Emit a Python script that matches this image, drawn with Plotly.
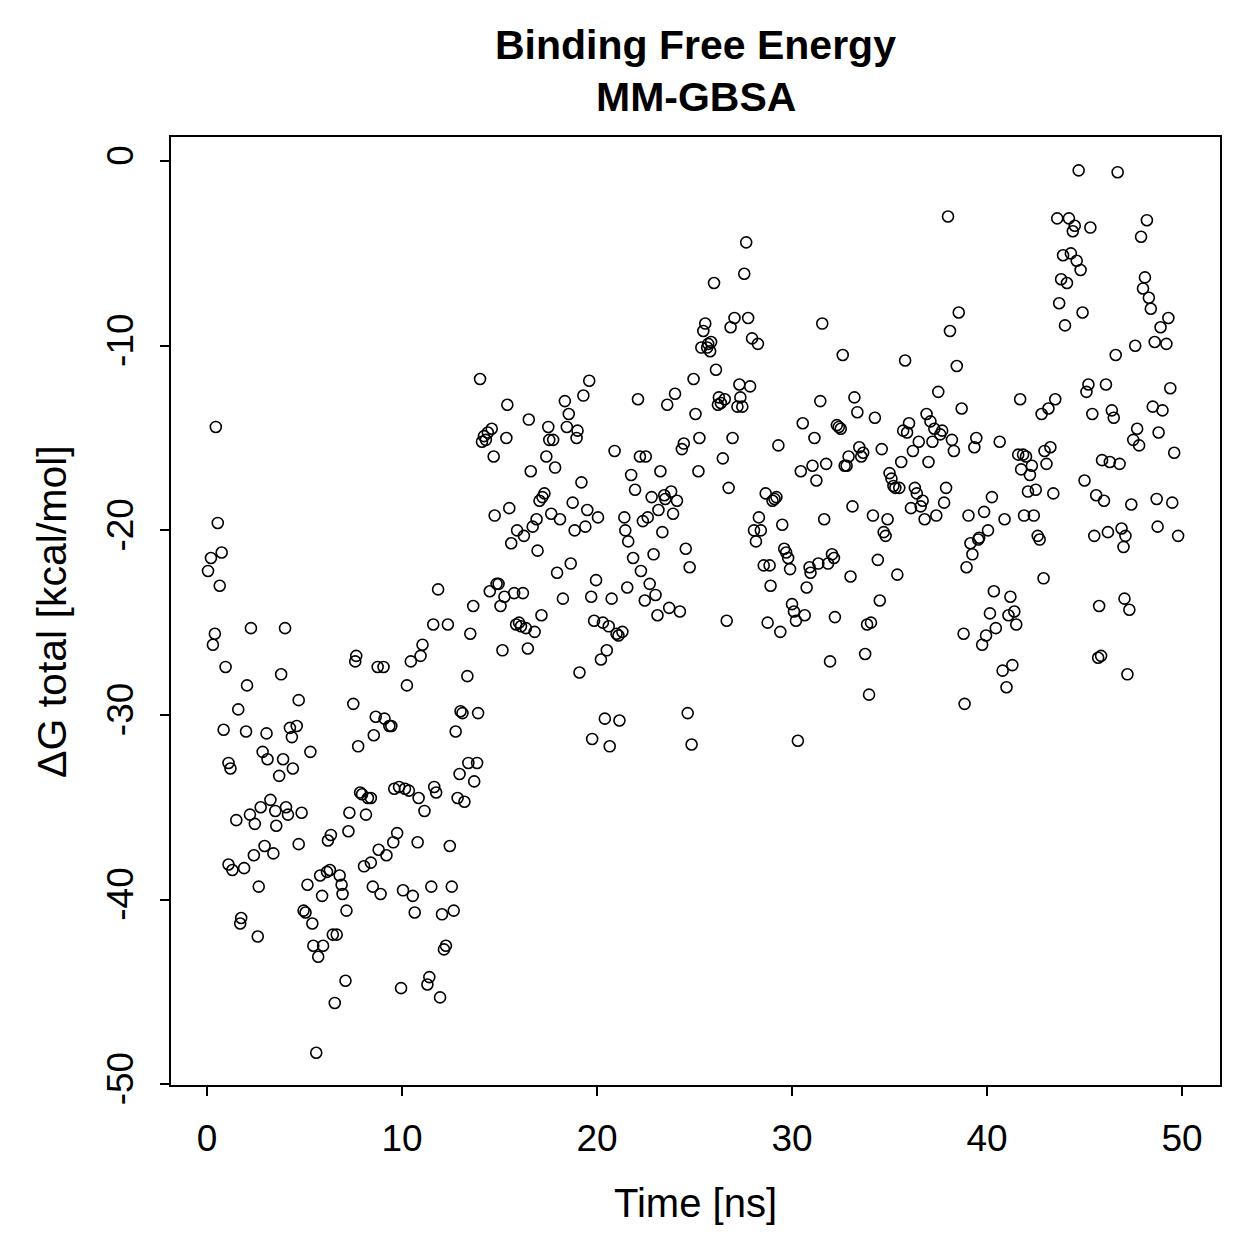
import plotly.graph_objects as go

time_ns = [0.05,0.2,0.3,0.4,0.45,0.55,0.65,0.75,0.85,0.95,1.1,1.2,1.1,1.3,1.5,1.6,1.75,1.7,1.9,2.0,
2.05,2.2,2.25,2.4,2.45,2.6,2.65,2.75,2.85,2.95,3.05,3.1,3.25,3.4,3.5,3.55,3.7,3.8,3.9,4.0,
4.05,4.15,4.25,4.35,4.4,4.6,4.7,4.7,4.85,4.95,5.05,5.15,5.3,5.4,5.45,5.6,5.7,5.8,5.9,5.95,
6.15,6.2,6.3,6.35,6.45,6.55,6.65,6.8,6.9,6.95,7.1,7.15,7.25,7.3,7.5,7.6,7.65,7.75,7.85,7.95,
8.05,8.15,8.25,8.4,8.4,8.5,8.55,8.65,8.75,8.8,8.9,9.05,9.1,9.2,9.35,9.45,9.55,9.6,9.75,9.85,
9.95,10.05,10.15,10.25,10.35,10.45,10.55,10.65,10.8,10.85,10.95,11.05,11.15,11.3,11.4,11.5,11.6,11.65,11.75,11.85,
11.95,12.05,12.15,12.25,12.35,12.45,12.55,12.65,12.75,12.85,12.95,13.0,13.1,13.2,13.35,13.4,13.5,13.65,13.7,13.85,
13.9,14.0,14.1,14.2,14.3,14.4,14.5,14.6,14.7,14.75,14.85,14.95,15.05,15.15,15.25,15.35,15.4,15.5,15.6,15.75,
15.85,15.9,16.0,16.1,16.2,16.25,16.35,16.45,16.5,16.6,16.7,16.8,16.9,16.95,17.05,17.15,17.2,17.3,17.4,17.5,
17.55,17.65,17.75,17.85,17.95,18.1,18.25,18.35,18.45,18.55,18.65,18.75,18.85,18.95,19.0,19.1,19.2,19.3,19.4,19.5,
19.6,19.7,19.75,19.85,19.95,20.05,20.2,20.3,20.4,20.5,20.6,20.65,20.75,20.9,21.0,21.1,21.15,21.3,21.4,21.45,
21.55,21.6,21.75,21.85,21.95,22.1,22.2,22.25,22.35,22.45,22.5,22.6,22.7,22.8,22.9,23.0,23.1,23.15,23.25,23.35,
23.45,23.5,23.6,23.7,23.8,23.9,24.0,24.1,24.25,24.35,24.45,24.55,24.65,24.75,24.85,24.95,25.05,25.2,25.25,25.35,
25.45,25.55,25.65,25.7,25.8,25.85,26.0,26.1,26.2,26.25,26.35,26.45,26.55,26.65,26.75,26.85,26.95,27.05,27.2,27.3,
27.35,27.45,27.55,27.65,27.75,27.85,27.95,28.05,28.15,28.25,28.3,28.4,28.55,28.65,28.75,28.85,28.9,29.0,29.1,29.2,
29.3,29.4,29.5,29.6,29.7,29.8,29.9,30.0,30.1,30.2,30.3,30.45,30.55,30.65,30.75,30.9,30.95,31.05,31.15,31.25,
31.35,31.45,31.55,31.65,31.75,31.85,31.95,32.05,32.15,32.2,32.3,32.4,32.5,32.6,32.7,32.8,32.9,33.0,33.1,33.2,
33.35,33.45,33.55,33.65,33.75,33.85,33.95,34.05,34.15,34.25,34.4,34.5,34.6,34.7,34.8,34.9,35.0,35.1,35.2,35.3,
35.4,35.5,35.6,35.7,35.8,35.9,36.0,36.1,36.2,36.3,36.4,36.5,36.6,36.7,36.8,36.9,37.0,37.1,37.2,37.3,
37.4,37.5,37.6,37.7,37.8,37.9,38.0,38.1,38.2,38.3,38.45,38.55,38.7,38.8,38.85,38.95,39.05,39.15,39.25,39.35,
39.45,39.55,39.6,39.75,39.85,39.95,40.05,40.15,40.25,40.35,40.45,40.65,40.8,40.9,41.0,41.1,41.2,41.3,41.4,41.5,
41.6,41.7,41.75,41.85,41.9,42.0,42.1,42.2,42.3,42.4,42.5,42.6,42.7,42.8,42.9,42.95,43.05,43.15,43.25,43.4,
43.5,43.6,43.7,43.8,43.9,44.0,44.1,44.2,44.3,44.4,44.5,44.6,44.7,44.8,44.9,45.0,45.1,45.2,45.3,45.4,
45.5,45.6,45.7,45.75,45.85,45.9,46.0,46.1,46.2,46.3,46.4,46.5,46.6,46.7,46.8,46.9,47.0,47.05,47.1,47.2,
47.3,47.4,47.5,47.6,47.7,47.8,47.9,48.0,48.1,48.2,48.3,48.4,48.5,48.6,48.7,48.75,48.8,48.9,49.0,49.2,
49.3,49.4,49.5,49.6,49.8]

dg_total = [-22.2,-21.5,-26.2,-25.6,-14.4,-19.6,-23.0,-21.2,-30.8,-27.4,-32.6,-32.9,-38.1,-38.4,-35.7,-29.7,-41.0,-41.3,-38.3,-30.9,
-28.4,-35.4,-25.3,-37.6,-35.9,-42.0,-39.3,-35.0,-32.0,-37.1,-31.0,-32.4,-34.6,-37.5,-35.2,-36.0,-33.3,-27.8,-32.4,-25.3,
-35.0,-35.4,-30.7,-31.2,-32.9,-30.6,-29.2,-37.0,-35.3,-40.6,-40.7,-39.2,-32.0,-41.3,-42.5,-48.3,-43.1,-38.7,-39.8,-42.5,
-38.5,-36.8,-38.4,-36.5,-41.9,-45.6,-41.9,-38.7,-39.2,-39.7,-44.4,-40.6,-36.3,-35.3,-29.4,-27.1,-26.8,-31.7,-34.2,-34.3,
-38.2,-35.4,-34.5,-34.5,-38.0,-39.3,-31.1,-30.1,-27.4,-37.3,-39.7,-27.4,-30.2,-37.6,-30.6,-30.6,-36.9,-34.0,-36.4,-33.9,
-44.8,-39.5,-34.0,-28.4,-34.1,-27.1,-39.8,-40.7,-36.9,-34.5,-26.8,-26.2,-35.2,-44.6,-44.2,-39.3,-25.1,-33.9,-34.2,-23.2,
-45.3,-40.8,-42.7,-42.5,-25.1,-37.1,-39.3,-40.6,-30.9,-34.5,-33.2,-29.8,-29.9,-34.7,-27.9,-32.6,-25.6,-24.1,-33.6,-32.6,
-29.9,-11.8,-15.2,-14.9,-15.1,-14.7,-23.3,-14.5,-16.0,-19.2,-22.9,-22.9,-24.1,-26.5,-23.6,-15.0,-13.2,-18.8,-20.7,-23.4,
-25.1,-20.0,-25.0,-25.2,-23.4,-20.3,-25.3,-26.4,-14.0,-16.8,-19.8,-25.5,-19.4,-21.1,-18.4,-24.6,-18.2,-18.0,-16.0,-14.4,
-15.1,-19.1,-15.1,-16.6,-22.3,-19.4,-23.7,-13.0,-14.4,-13.7,-21.8,-18.5,-20.0,-15.0,-14.6,-27.7,-17.4,-12.7,-19.8,-18.9,
-11.9,-23.6,-31.3,-24.9,-22.7,-19.3,-27.0,-25.0,-30.2,-26.5,-25.2,-31.7,-23.7,-15.7,-25.6,-25.7,-30.3,-25.5,-19.3,-20.0,
-23.1,-20.6,-17.0,-21.5,-17.8,-12.9,-16.0,-22.2,-19.5,-23.8,-16.0,-19.3,-22.9,-18.2,-21.3,-23.5,-24.6,-18.9,-16.8,-20.1,
-18.1,-18.3,-13.2,-24.2,-17.9,-19.1,-12.6,-18.4,-24.4,-15.6,-15.3,-21.0,-29.9,-22.0,-31.6,-11.8,-13.7,-16.8,-15.0,-10.1,
-9.2,-8.8,-10.1,-9.9,-10.3,-9.8,-6.6,-11.3,-13.2,-12.8,-13.1,-16.1,-12.9,-24.9,-17.7,-9.0,-15.0,-8.5,-13.3,-12.1,
-12.8,-13.3,-6.1,-4.4,-8.5,-12.2,-9.6,-20.0,-20.6,-9.9,-19.3,-20.0,-21.9,-18.0,-25.0,-21.9,-23.0,-18.4,-18.3,-18.2,
-15.4,-25.5,-19.7,-21.0,-21.2,-21.5,-22.1,-24.0,-24.4,-24.9,-31.4,-16.8,-14.2,-24.6,-23.1,-22.0,-22.3,-16.5,-15.0,-17.3,
-21.8,-13.0,-8.8,-19.4,-16.4,-21.8,-27.1,-21.3,-21.5,-24.7,-14.3,-14.4,-14.5,-10.5,-16.5,-16.5,-16.0,-22.5,-18.7,-12.8,
-13.6,-15.5,-16.0,-15.8,-26.7,-25.1,-28.9,-25.0,-19.2,-13.9,-21.6,-23.8,-15.6,-20.1,-20.3,-19.4,-16.9,-17.2,-17.6,-17.7,
-22.4,-17.7,-16.3,-14.6,-10.8,-14.7,-14.2,-18.8,-15.7,-17.7,-18.0,-15.2,-18.7,-18.4,-19.4,-13.7,-16.3,-14.1,-15.2,-14.5,
-19.2,-12.5,-14.8,-14.6,-18.5,-17.7,-3.0,-9.2,-15.1,-15.7,-11.1,-8.2,-13.4,-25.6,-29.4,-22.0,-19.2,-20.7,-21.3,-15.5,
-15.0,-20.5,-20.4,-26.2,-19.0,-25.7,-20.0,-24.5,-18.2,-23.3,-25.3,-15.2,-27.6,-19.4,-28.5,-24.6,-23.6,-27.3,-24.4,-25.1,
-15.9,-12.9,-16.7,-15.9,-19.2,-16.0,-17.9,-17.0,-16.5,-19.2,-17.8,-20.3,-20.5,-13.7,-22.6,-15.7,-16.4,-13.4,-15.5,-18.0,
-12.9,-3.1,-7.7,-6.4,-5.1,-8.9,-6.6,-3.1,-5.0,-3.8,-3.5,-5.4,-0.5,-5.9,-8.2,-17.3,-12.5,-12.1,-3.6,-13.7,
-20.3,-18.1,-26.9,-24.1,-26.8,-16.2,-18.4,-12.1,-20.1,-16.3,-13.5,-13.9,-10.5,-0.6,-16.4,-19.9,-20.9,-23.7,-20.3,-27.8,
-24.3,-18.6,-15.1,-10.0,-14.5,-15.4,-4.1,-6.9,-6.3,-3.2,-7.4,-8.0,-13.3,-9.8,-18.3,-19.8,-14.7,-9.0,-13.5,-9.9,
-8.5,-12.3,-18.5,-15.8,-20.3]

x_ticks = [0, 10, 20, 30, 40, 50]
y_ticks = [0, -10, -20, -30, -40, -50]

FONT = "Liberation Sans, Arial, Helvetica, sans-serif"

fig = go.Figure()
fig.add_trace(go.Scatter(
    x=time_ns, y=dg_total, mode="markers",
    marker=dict(symbol="circle-open", size=11, color="black", line=dict(width=1.6, color="black")),
    showlegend=False, hoverinfo="skip",
))

axis_common = dict(
    showgrid=False, zeroline=False, showline=False,
    ticks="outside", ticklen=9, tickwidth=2, tickcolor="black",
    tickfont=dict(family=FONT, size=37, color="black"),
)

fig.update_xaxes(range=[-1.9, 52.0], tickvals=x_ticks, ticktext=[str(v) for v in x_ticks],
                 ticklabelstandoff=11, **axis_common)
fig.update_yaxes(range=[-50.1, 1.36], tickvals=y_ticks, ticktext=[str(v) for v in y_ticks],
                 tickangle=-90, ticklabelstandoff=12, **axis_common)

# plot frame
fig.add_shape(type="rect", xref="paper", yref="paper", x0=0, y0=0, x1=1, y1=1,
              line=dict(color="black", width=2))

fig.add_annotation(text="<b>Binding Free Energy</b>", xref="paper", yref="paper",
                   x=0.5, y=1.0958, showarrow=False, xanchor="center", yanchor="middle",
                   font=dict(family=FONT, size=41, color="black"))
fig.add_annotation(text="<b>MM-GBSA</b>", xref="paper", yref="paper",
                   x=0.5, y=1.041, showarrow=False, xanchor="center", yanchor="middle",
                   font=dict(family=FONT, size=41, color="black"))
fig.add_annotation(text="Time [ns]", xref="paper", yref="paper",
                   x=0.5, y=-0.1232, showarrow=False, xanchor="center", yanchor="middle",
                   font=dict(family=FONT, size=40, color="black"))
fig.add_annotation(text="ΔG total [kcal/mol]", xref="paper", yref="paper",
                   x=-0.1123, y=0.5, showarrow=False, xanchor="center", yanchor="middle",
                   textangle=-90, font=dict(family=FONT, size=41, color="black"))

fig.update_layout(
    width=1259, height=1259,
    margin=dict(l=170, r=38, t=136, b=173, autoexpand=False),
    paper_bgcolor="white", plot_bgcolor="white",
)

fig.write_html("out.html")
